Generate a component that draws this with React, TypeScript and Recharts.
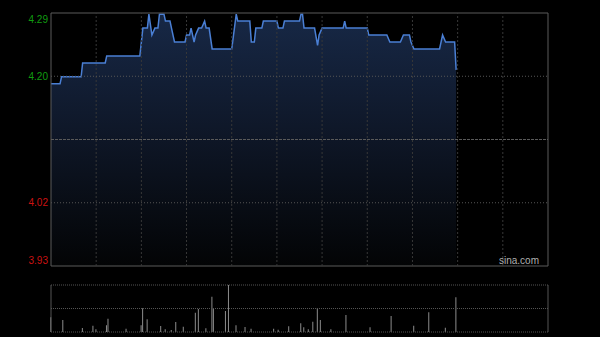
import {
  ComposedChart,
  Area,
  XAxis,
  YAxis,
  ReferenceLine,
  ReferenceArea,
  BarChart,
  Bar,
} from 'recharts';

// HK session: 9:30-12:00, 13:00-16:00 => 330 minutes on the x axis
const sessionMinutes = 330;
const prevClose = 4.11;
const pctTicks = [4.42, 2.21, -2.21, -4.42];
const timeGrid = [30, 60, 90, 120, 150, 180, 210, 240, 270, 300];

// [minute, price]
const pricePoints: [number, number][] = [
  [0, 4.19], [6, 4.19], [7, 4.2], [20, 4.2], [21, 4.22], [36, 4.22],
  [37, 4.23], [59, 4.23], [61, 4.27], [64, 4.27], [65, 4.29], [67, 4.26],
  [69, 4.27], [71, 4.27], [72, 4.29], [75, 4.29], [76, 4.28], [79, 4.28],
  [80, 4.27], [82, 4.25], [89, 4.25], [90, 4.26], [92, 4.26], [93, 4.27],
  [95, 4.25], [96, 4.26], [98, 4.27], [100, 4.27], [102, 4.28], [103, 4.27],
  [105, 4.27], [107, 4.24], [120, 4.24], [123, 4.29], [124, 4.28], [132, 4.28],
  [133, 4.25], [135, 4.25], [136, 4.27], [140, 4.27], [141, 4.28], [150, 4.28],
  [151, 4.27], [154, 4.27], [155, 4.28], [165, 4.28], [166, 4.29], [167, 4.29],
  [168, 4.27], [175, 4.27], [177, 4.245], [178, 4.26], [180, 4.27], [194, 4.27],
  [195, 4.28], [196, 4.27], [210, 4.27], [211, 4.26], [223, 4.26], [225, 4.25],
  [232, 4.25], [234, 4.26], [238, 4.26], [239, 4.25], [241, 4.24], [258, 4.24],
  [260, 4.26], [262, 4.25], [268, 4.25], [269, 4.21],
];

// [minute, volume]
const volumePoints: [number, number][] = [
  [0, 147], [8, 120], [21, 40], [28, 63], [30, 27], [37, 67], [38, 133],
  [50, 33], [60, 67], [61, 237], [64, 127], [73, 60], [76, 27], [80, 20],
  [83, 100], [88, 53], [96, 193], [98, 230], [103, 37], [107, 353], [108, 237],
  [116, 210], [118, 470], [123, 67], [129, 50], [133, 33], [148, 33], [151, 23],
  [158, 57], [166, 87], [168, 47], [171, 27], [174, 103], [177, 237], [179, 120],
  [186, 27], [196, 170], [212, 47], [226, 160], [241, 63], [251, 197], [262, 43],
  [269, 347],
];

const lo = prevClose * (1 - 0.0442);
const hi = prevClose * (1 + 0.0442);
const priceTicks = pctTicks.map((p) => prevClose * (1 + p / 100));
const priceData = pricePoints.map(([t, p]) => ({ t, p }));
const volumeData = volumePoints.map(([t, v]) => ({ t, v }));
const volMax = 470;

const GREEN = '#109c10';
const RED = '#cc1212';
const FONT = 'Arial, "Liberation Sans", sans-serif';

const tickDy = (value: number) => {
  if (Math.abs(value - hi) < 1e-6) return 6;
  if (Math.abs(value - lo) < 1e-6) return -6;
  return 0;
};

const LeftTick = (props: any) => {
  const { x, y, payload } = props;
  const v = payload.value;
  return (
    <text
      x={x}
      y={y + tickDy(v)}
      textAnchor="end"
      dominantBaseline="central"
      fontSize={10}
      fontFamily={FONT}
      fill={v > prevClose ? GREEN : RED}
    >
      {v.toFixed(2)}
    </text>
  );
};

const RightTick = (props: any) => {
  const { x, y, payload } = props;
  const v = payload.value;
  const pct = ((v - prevClose) / prevClose) * 100;
  return (
    <text
      x={x}
      y={y + tickDy(v)}
      textAnchor="start"
      dominantBaseline="central"
      fontSize={10}
      fontFamily={FONT}
      fill={pct > 0 ? GREEN : RED}
    >
      {(pct > 0 ? '+' : '') + pct.toFixed(2) + '%'}
    </text>
  );
};

export default function App() {
  return (
    <div style={{ position: 'fixed', left: 0, top: 0, width: 600, height: 337, background: '#000' }}>
      <style>{`body{margin:0;background:#000}`}</style>
      <div style={{ position: 'absolute', left: 0, top: 0 }}>
        <ComposedChart width={600} height={280} data={priceData} margin={{ top: 13, right: 0, bottom: 14, left: 0 }}>
          <defs>
            <linearGradient id="fillGrad" x1="0" y1="0" x2="0" y2="1">
              <stop offset="0%" stopColor="#172846" />
              <stop offset="50%" stopColor="#0e1626" />
              <stop offset="100%" stopColor="#030405" />
            </linearGradient>
          </defs>
          <XAxis type="number" dataKey="t" domain={[0, sessionMinutes]} hide />
          <YAxis
            yAxisId="l"
            orientation="left"
            width={51}
            domain={[lo, hi]}
            ticks={priceTicks}
            interval={0}
            axisLine={false}
            tickLine={false}
            tickSize={0}
            tickMargin={3}
            tick={<LeftTick />}
          />
          <YAxis
            yAxisId="r"
            orientation="right"
            width={52}
            domain={[lo, hi]}
            ticks={priceTicks}
            interval={0}
            axisLine={false}
            tickLine={false}
            tickSize={0}
            tickMargin={5}
            tick={<RightTick />}
          />
          <Area
            yAxisId="l"
            type="linear"
            dataKey="p"
            baseValue={lo}
            stroke="#4a7fd4"
            strokeWidth={1.5}
            fill="url(#fillGrad)"
            fillOpacity={1}
            dot={false}
            activeDot={false}
            isAnimationActive={false}
          />
          {timeGrid.map((t) => (
            <ReferenceLine key={t} yAxisId="l" x={t} stroke="#383838" strokeDasharray="2 2" />
          ))}
          {priceTicks.slice(1, 3).map((p) => (
            <ReferenceLine key={p} yAxisId="l" y={p} stroke="#555" strokeDasharray="1 2" />
          ))}
          <ReferenceLine yAxisId="l" y={prevClose} stroke="#5a5a5a" strokeDasharray="3 1" />
          <ReferenceArea
            yAxisId="l"
            x1={0}
            x2={sessionMinutes}
            y1={lo}
            y2={hi}
            fill="none"
            stroke="#5a5a5a"
            strokeWidth={1}
          />
        </ComposedChart>
      </div>
      <div
        style={{
          position: 'absolute',
          left: 499,
          top: 255,
          fontSize: 10,
          fontFamily: FONT,
          color: '#b0b0b0',
        }}
      >
        sina.com
      </div>
      <div style={{ position: 'absolute', left: 0, top: 280 }}>
        <BarChart width={600} height={57} data={volumeData} margin={{ top: 5, right: 52, bottom: 5, left: 51 }}>
          <XAxis type="number" dataKey="t" domain={[0, sessionMinutes]} hide />
          <YAxis domain={[0, volMax]} hide />
          <ReferenceLine y={volMax} stroke="#555" strokeDasharray="1 1" />
          <ReferenceLine y={volMax / 2} stroke="#555" strokeDasharray="1 1" />
          <ReferenceLine y={0} stroke="#555" strokeDasharray="1 1" />
          <ReferenceLine x={0} stroke="#555" />
          <ReferenceLine x={sessionMinutes} stroke="#555" />
          <Bar dataKey="v" fill="#8c8c8c" barSize={1} isAnimationActive={false} />
        </BarChart>
      </div>
    </div>
  );
}
